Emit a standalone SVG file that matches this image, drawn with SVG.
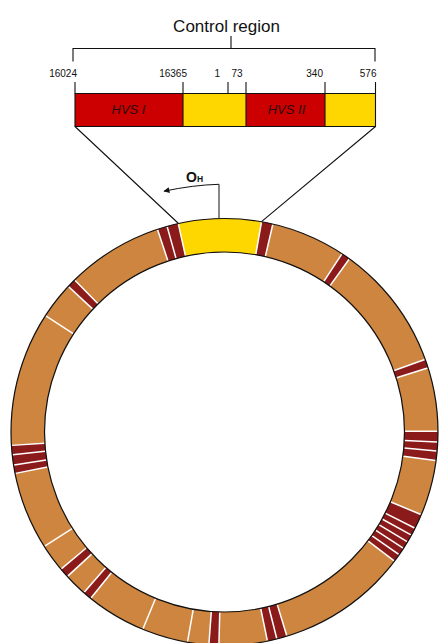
<svg xmlns="http://www.w3.org/2000/svg" xmlns:xlink="http://www.w3.org/1999/xlink" width="439" height="643" viewBox="0 0 439 643">
<style>
text{font-family:"Liberation Sans",Arial,sans-serif;fill:#111}
.num{font-size:10px;text-anchor:end}
.hvs{font-size:13px;font-style:italic;text-anchor:middle;fill:#2a0808}
.ln{stroke:#111;stroke-width:1.1;fill:none}
.arc{fill:none;stroke-width:33.5}
.band{fill:none;stroke:#8B1A1A;stroke-width:33.5}
.ol{fill:none;stroke:#111;stroke-width:1.2}
</style>
<defs>
<line id="w" x1="0" y1="-180.5" x2="0" y2="-213" stroke="#fff" stroke-width="1.5"/>
<marker id="ah" viewBox="0 0 10 10" refX="9" refY="5" markerWidth="10" markerHeight="6" markerUnits="userSpaceOnUse" orient="auto"><path d="M0,0 L10,5 L0,10 Z" fill="#111"/></marker>
</defs>
<g id="title">
<text x="226.5" y="31.5" font-size="17" text-anchor="middle">Control region</text>
<path class="ln" d="M231,36 V48.5 M73,61.5 V48.5 H375 V61.5"/>
</g>
<g id="labels">
<text class="num" x="77" y="77.3">16024</text>
<text class="num" x="187" y="77.3">16365</text>
<text class="num" x="220" y="77.3">1</text>
<text class="num" x="242.5" y="77.3">73</text>
<text class="num" x="323" y="77.3">340</text>
<text class="num" x="376.5" y="77.3">576</text>
<path class="ln" d="M75,82 V93.5 M183,82 V93.5 M228,82 V93.5 M246,82 V93.5 M325,82 V93.5 M375.5,82 V93.5"/>
</g>
<g id="control-box">
<rect x="75" y="93.5" width="108" height="33" fill="#CC0000"/>
<rect x="183" y="93.5" width="63" height="33" fill="#FFD700"/>
<rect x="246" y="93.5" width="79" height="33" fill="#CC0000"/>
<rect x="325" y="93.5" width="50.5" height="33" fill="#FFD700"/>
<path class="ln" d="M75,93.5 H375.5 V126.5 H75 Z M183,93.5 V126.5 M246,93.5 V126.5 M325,93.5 V126.5"/>
<text class="hvs" x="128.5" y="114">HVS I</text>
<text class="hvs" x="286.5" y="114">HVS II</text>
</g>
<g id="connectors">
<path class="ln" d="M75,126.5 L178.5,223.5 M375.5,126.5 L261.5,221.7"/>
<path d="M219,218.8 V184.3 Q193,185 164,191.2" fill="none" stroke="#111" stroke-width="1" marker-end="url(#ah)"/>
</g>
<g id="origin-label">
<text x="186" y="181.5" font-size="14" font-weight="bold">O<tspan font-size="8.5">H</tspan></text>
</g>
<g id="mtdna-ring" transform="translate(224.5,432)">
<circle class="arc" r="196.75" stroke="#CD853F"/>
<circle class="arc" r="196.75" stroke="#FFD700" pathLength="360" stroke-dasharray="22.5 337.5" transform="rotate(257.5)"/>
<circle class="band" r="196.75" pathLength="360" stroke-dasharray="5.8 354.2" transform="rotate(251.7)"/>
<circle class="band" r="196.75" pathLength="360" stroke-dasharray="3.1 356.9" transform="rotate(-80)"/>
<circle class="band" r="196.75" pathLength="360" stroke-dasharray="2.4 357.6" transform="rotate(-56.6)"/>
<circle class="band" r="196.75" pathLength="360" stroke-dasharray="2.4 357.6" transform="rotate(-19.9)"/>
<circle class="band" r="196.75" pathLength="360" stroke-dasharray="7.9 352.1" transform="rotate(-0.2)"/>
<circle class="band" r="196.75" pathLength="360" stroke-dasharray="14.4 345.6" transform="rotate(22.8)"/>
<circle class="band" r="196.75" pathLength="360" stroke-dasharray="5.4 354.6" transform="rotate(73)"/>
<circle class="band" r="196.75" pathLength="360" stroke-dasharray="2.7 357.3" transform="rotate(91.5)"/>
<circle class="band" r="196.75" pathLength="360" stroke-dasharray="2.4 357.6" transform="rotate(128.8)"/>
<circle class="band" r="196.75" pathLength="360" stroke-dasharray="2.6 357.4" transform="rotate(137.4)"/>
<circle class="band" r="196.75" pathLength="360" stroke-dasharray="7.6 352.4" transform="rotate(168.8)"/>
<circle class="band" r="196.75" pathLength="360" stroke-dasharray="2.4 357.6" transform="rotate(223)"/>
<use xlink:href="#w" transform="rotate(341.7)"/>
<use xlink:href="#w" transform="rotate(344.4)"/>
<use xlink:href="#w" transform="rotate(347.5)"/>
<use xlink:href="#w" transform="rotate(10)"/>
<use xlink:href="#w" transform="rotate(13.1)"/>
<use xlink:href="#w" transform="rotate(33.4)"/>
<use xlink:href="#w" transform="rotate(35.8)"/>
<use xlink:href="#w" transform="rotate(70.1)"/>
<use xlink:href="#w" transform="rotate(72.5)"/>
<use xlink:href="#w" transform="rotate(89.8)"/>
<use xlink:href="#w" transform="rotate(92.7)"/>
<use xlink:href="#w" transform="rotate(95.1)"/>
<use xlink:href="#w" transform="rotate(97.7)"/>
<use xlink:href="#w" transform="rotate(112.8)"/>
<use xlink:href="#w" transform="rotate(116.8)"/>
<use xlink:href="#w" transform="rotate(118.9)"/>
<use xlink:href="#w" transform="rotate(121)"/>
<use xlink:href="#w" transform="rotate(123)"/>
<use xlink:href="#w" transform="rotate(125.1)"/>
<use xlink:href="#w" transform="rotate(127.2)"/>
<use xlink:href="#w" transform="rotate(163)"/>
<use xlink:href="#w" transform="rotate(165.8)"/>
<use xlink:href="#w" transform="rotate(168.4)"/>
<use xlink:href="#w" transform="rotate(181.5)"/>
<use xlink:href="#w" transform="rotate(184.2)"/>
<use xlink:href="#w" transform="rotate(190)"/>
<use xlink:href="#w" transform="rotate(202.5)"/>
<use xlink:href="#w" transform="rotate(218.8)"/>
<use xlink:href="#w" transform="rotate(221.2)"/>
<use xlink:href="#w" transform="rotate(227.4)"/>
<use xlink:href="#w" transform="rotate(230)"/>
<use xlink:href="#w" transform="rotate(237.6)"/>
<use xlink:href="#w" transform="rotate(258.8)"/>
<use xlink:href="#w" transform="rotate(261.1)"/>
<use xlink:href="#w" transform="rotate(263.9)"/>
<use xlink:href="#w" transform="rotate(266.4)"/>
<use xlink:href="#w" transform="rotate(303)"/>
<use xlink:href="#w" transform="rotate(313)"/>
<use xlink:href="#w" transform="rotate(315.4)"/>
<circle class="ol" r="213.5"/>
<circle class="ol" r="180"/>
</g>
</svg>
